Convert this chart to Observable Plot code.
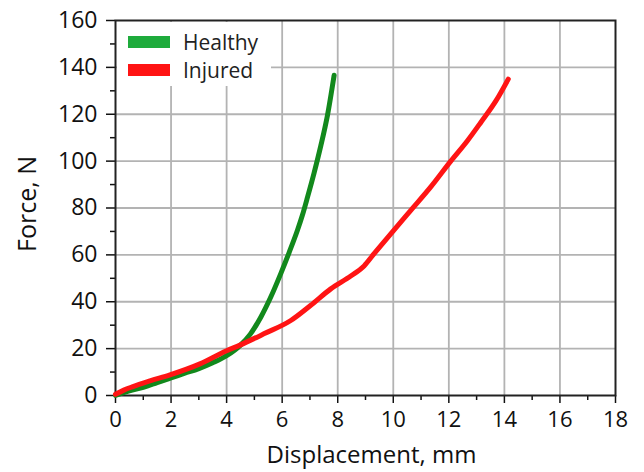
<!DOCTYPE html>
<html>
<head>
<meta charset="utf-8">
<script src="https://cdn.jsdelivr.net/npm/d3@7"></script>
<script src="https://cdn.jsdelivr.net/npm/@observablehq/plot@0.6"></script>
<style>
  html, body { margin: 0; padding: 0; background: #fff; }
  #wrap { position: relative; width: 644px; height: 472px; font-family: "Open Sans", sans-serif; }
  #legend { position: absolute; left: 117px; top: 22px; width: 154px; height: 64px; background: #fff; }
  .item { position: absolute; left: 11px; display: flex; align-items: center; font-size: 21px; line-height: 24px; color: #222; }
  .sw { width: 42px; height: 12px; margin-right: 13px; }
</style>
</head>
<body>
<div id="wrap">
  <div id="chart"></div>
  <div id="legend"></div>
</div>
<script>
// Healthy curve: displacement (mm), force (N)
const healthyX = [0, 0.5, 1, 1.5, 2, 2.5, 3, 3.5, 4, 4.5, 4.86, 5.23, 5.59, 5.95, 6.25, 6.55, 6.73, 6.91, 7.15, 7.39, 7.63, 7.87];
const healthyY = [0, 2, 3.5, 5.5, 7.5, 9.5, 11.5, 14, 17, 21.5, 26.3, 33.4, 42, 52, 61, 70.5, 77, 84.5, 95, 106.5, 119.5, 136.6];
// Injured curve
const injuredX = [0, 0.3, 0.63, 1.24, 1.96, 3.04, 3.98, 4.48, 5.34, 6.31, 7.03, 7.75, 8.47, 8.95, 9.31, 9.91, 10.63, 11.35, 12.07, 12.67, 13.15, 13.7, 14.14];
const injuredY = [0.5, 2.3, 3.8, 6.2, 8.8, 13.5, 19, 21.5, 26.3, 32, 38.5, 45.5, 51, 55.3, 60.5, 69, 79, 89, 100, 108.7, 116.5, 125.8, 135];

const seriesNames = ["Healthy", "Injured"];
const lineColors = ["#12891c", "#ff1414"];
const legendColors = ["#1eab3c", "#ff1414"];

const xTicks = [0, 2, 4, 6, 8, 10, 12, 14, 16, 18];
const xMinor = [1, 3, 5, 7, 9, 11, 13, 15, 17];
const yTicks = [0, 20, 40, 60, 80, 100, 120, 140, 160];
const yMinor = [10, 30, 50, 70, 90, 110, 130, 150];
const xLabel = "Displacement, mm";
const yLabel = "Force, N";

const healthy = healthyX.map((x, i) => ({x, y: healthyY[i]}));
const injured = injuredX.map((x, i) => ({x, y: injuredY[i]}));

const chart = Plot.plot({
  width: 644,
  height: 472,
  marginLeft: 115,
  marginRight: 29,
  marginTop: 20,
  marginBottom: 77,
  style: {fontFamily: "Open Sans, sans-serif", background: "#fff", color: "#111"},
  x: {domain: [0, 18]},
  y: {domain: [0, 160]},
  marks: [
    Plot.gridX(xTicks.slice(1, -1), {stroke: "#b3b3b3", strokeOpacity: 1, strokeWidth: 1.8}),
    Plot.gridY(yTicks.slice(1, -1), {stroke: "#b3b3b3", strokeOpacity: 1, strokeWidth: 1.8}),
    Plot.axisX(xTicks, {tickSize: 8, tickPadding: 8, fontSize: 22, strokeWidth: 1.5, label: null, tickFormat: d => String(d)}),
    Plot.axisX(xMinor, {tickSize: 5, text: null, strokeWidth: 1.5, label: null}),
    Plot.axisY(yTicks, {tickSize: 9, tickPadding: 9, fontSize: 23, strokeWidth: 1.5, label: null, tickFormat: d => String(d)}),
    Plot.axisY(yMinor, {tickSize: 5, text: null, strokeWidth: 1.5, label: null}),
    Plot.frame({stroke: "#222", strokeWidth: 2}),
    Plot.line(healthy, {x: "x", y: "y", stroke: lineColors[0], strokeWidth: 5, curve: "monotone-x"}),
    Plot.line(injured, {x: "x", y: "y", stroke: lineColors[1], strokeWidth: 5, curve: "monotone-x"}),
    Plot.text([xLabel], {text: d => d, frameAnchor: "bottom", textAnchor: "middle", lineAnchor: "bottom", dx: 6, dy: 67, fontSize: 24, fill: "#111"}),
    Plot.text([yLabel], {text: d => d, frameAnchor: "left", textAnchor: "middle", lineAnchor: "middle", dx: -88, dy: -4, rotate: -90, fontSize: 25, fill: "#111"})
  ]
});
document.getElementById("chart").appendChild(chart);

const legend = document.getElementById("legend");
seriesNames.forEach((name, i) => {
  const item = document.createElement("div");
  item.className = "item";
  item.style.top = (8 + i * 28) + "px";
  const sw = document.createElement("div");
  sw.className = "sw";
  sw.style.background = legendColors[i];
  const label = document.createElement("span");
  label.textContent = name;
  item.appendChild(sw);
  item.appendChild(label);
  legend.appendChild(item);
});
</script>
</body>
</html>
